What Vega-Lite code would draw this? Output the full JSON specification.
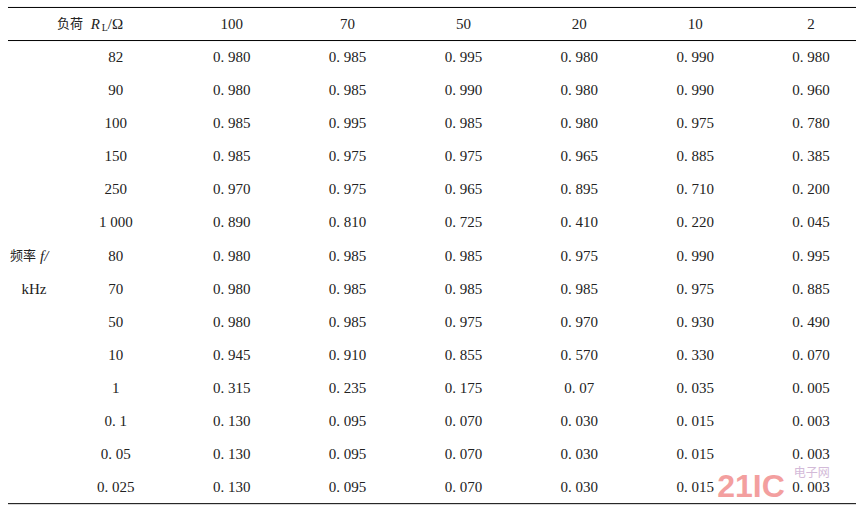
{
  "$schema": "https://vega.github.io/schema/vega-lite/v6.json",
  "width": 857,
  "height": 512,
  "autosize": {"type": "fit", "contains": "padding"},
  "padding": 0,
  "background": "white",
  "config": {"view": {"stroke": null}},
  "datasets": {
    "cells": [
      {"r": 0, "c": 1, "t": "100"}, {"r": 0, "c": 2, "t": "70"}, {"r": 0, "c": 3, "t": "50"}, {"r": 0, "c": 4, "t": "20"}, {"r": 0, "c": 5, "t": "10"}, {"r": 0, "c": 6, "t": "2"},
      {"r": 1, "c": 0, "t": "82"}, {"r": 1, "c": 1, "t": "0. 980"}, {"r": 1, "c": 2, "t": "0. 985"}, {"r": 1, "c": 3, "t": "0. 995"}, {"r": 1, "c": 4, "t": "0. 980"}, {"r": 1, "c": 5, "t": "0. 990"}, {"r": 1, "c": 6, "t": "0. 980"},
      {"r": 2, "c": 0, "t": "90"}, {"r": 2, "c": 1, "t": "0. 980"}, {"r": 2, "c": 2, "t": "0. 985"}, {"r": 2, "c": 3, "t": "0. 990"}, {"r": 2, "c": 4, "t": "0. 980"}, {"r": 2, "c": 5, "t": "0. 990"}, {"r": 2, "c": 6, "t": "0. 960"},
      {"r": 3, "c": 0, "t": "100"}, {"r": 3, "c": 1, "t": "0. 985"}, {"r": 3, "c": 2, "t": "0. 995"}, {"r": 3, "c": 3, "t": "0. 985"}, {"r": 3, "c": 4, "t": "0. 980"}, {"r": 3, "c": 5, "t": "0. 975"}, {"r": 3, "c": 6, "t": "0. 780"},
      {"r": 4, "c": 0, "t": "150"}, {"r": 4, "c": 1, "t": "0. 985"}, {"r": 4, "c": 2, "t": "0. 975"}, {"r": 4, "c": 3, "t": "0. 975"}, {"r": 4, "c": 4, "t": "0. 965"}, {"r": 4, "c": 5, "t": "0. 885"}, {"r": 4, "c": 6, "t": "0. 385"},
      {"r": 5, "c": 0, "t": "250"}, {"r": 5, "c": 1, "t": "0. 970"}, {"r": 5, "c": 2, "t": "0. 975"}, {"r": 5, "c": 3, "t": "0. 965"}, {"r": 5, "c": 4, "t": "0. 895"}, {"r": 5, "c": 5, "t": "0. 710"}, {"r": 5, "c": 6, "t": "0. 200"},
      {"r": 6, "c": 0, "t": "1 000"}, {"r": 6, "c": 1, "t": "0. 890"}, {"r": 6, "c": 2, "t": "0. 810"}, {"r": 6, "c": 3, "t": "0. 725"}, {"r": 6, "c": 4, "t": "0. 410"}, {"r": 6, "c": 5, "t": "0. 220"}, {"r": 6, "c": 6, "t": "0. 045"},
      {"r": 7, "c": 0, "t": "80"}, {"r": 7, "c": 1, "t": "0. 980"}, {"r": 7, "c": 2, "t": "0. 985"}, {"r": 7, "c": 3, "t": "0. 985"}, {"r": 7, "c": 4, "t": "0. 975"}, {"r": 7, "c": 5, "t": "0. 990"}, {"r": 7, "c": 6, "t": "0. 995"},
      {"r": 8, "c": 0, "t": "70"}, {"r": 8, "c": 1, "t": "0. 980"}, {"r": 8, "c": 2, "t": "0. 985"}, {"r": 8, "c": 3, "t": "0. 985"}, {"r": 8, "c": 4, "t": "0. 985"}, {"r": 8, "c": 5, "t": "0. 975"}, {"r": 8, "c": 6, "t": "0. 885"},
      {"r": 9, "c": 0, "t": "50"}, {"r": 9, "c": 1, "t": "0. 980"}, {"r": 9, "c": 2, "t": "0. 985"}, {"r": 9, "c": 3, "t": "0. 975"}, {"r": 9, "c": 4, "t": "0. 970"}, {"r": 9, "c": 5, "t": "0. 930"}, {"r": 9, "c": 6, "t": "0. 490"},
      {"r": 10, "c": 0, "t": "10"}, {"r": 10, "c": 1, "t": "0. 945"}, {"r": 10, "c": 2, "t": "0. 910"}, {"r": 10, "c": 3, "t": "0. 855"}, {"r": 10, "c": 4, "t": "0. 570"}, {"r": 10, "c": 5, "t": "0. 330"}, {"r": 10, "c": 6, "t": "0. 070"},
      {"r": 11, "c": 0, "t": "1"}, {"r": 11, "c": 1, "t": "0. 315"}, {"r": 11, "c": 2, "t": "0. 235"}, {"r": 11, "c": 3, "t": "0. 175"}, {"r": 11, "c": 4, "t": "0. 07"}, {"r": 11, "c": 5, "t": "0. 035"}, {"r": 11, "c": 6, "t": "0. 005"},
      {"r": 12, "c": 0, "t": "0. 1"}, {"r": 12, "c": 1, "t": "0. 130"}, {"r": 12, "c": 2, "t": "0. 095"}, {"r": 12, "c": 3, "t": "0. 070"}, {"r": 12, "c": 4, "t": "0. 030"}, {"r": 12, "c": 5, "t": "0. 015"}, {"r": 12, "c": 6, "t": "0. 003"},
      {"r": 13, "c": 0, "t": "0. 05"}, {"r": 13, "c": 1, "t": "0. 130"}, {"r": 13, "c": 2, "t": "0. 095"}, {"r": 13, "c": 3, "t": "0. 070"}, {"r": 13, "c": 4, "t": "0. 030"}, {"r": 13, "c": 5, "t": "0. 015"}, {"r": 13, "c": 6, "t": "0. 003"},
      {"r": 14, "c": 0, "t": "0. 025"}, {"r": 14, "c": 1, "t": "0. 130"}, {"r": 14, "c": 2, "t": "0. 095"}, {"r": 14, "c": 3, "t": "0. 070"}, {"r": 14, "c": 4, "t": "0. 030"}, {"r": 14, "c": 5, "t": "0. 015"}, {"r": 14, "c": 6, "t": "0. 003"}
    ],
    "rules": [{"r": -0.5}, {"r": 0.5}, {"r": 14.5}]
  },
  "encoding": {
    "x": {"type": "quantitative", "scale": {"domain": [-1, 6.388], "nice": false, "zero": false}, "axis": null},
    "y": {"type": "quantitative", "scale": {"domain": [-0.7255, 14.752], "nice": false, "zero": false, "reverse": true}, "axis": null}
  },
  "layer": [
    {
      "data": {"name": "rules"},
      "mark": {"type": "rule", "color": "#000", "strokeWidth": 1},
      "encoding": {
        "y": {"field": "r", "type": "quantitative"},
        "x": {"datum": -0.931, "type": "quantitative"},
        "x2": {"datum": 6.388}
      }
    },
    {
      "data": {"name": "cells"},
      "mark": {"type": "text", "font": "Times New Roman, Liberation Serif, serif", "fontSize": 15, "color": "#222", "align": "center", "baseline": "middle"},
      "encoding": {
        "x": {"field": "c", "type": "quantitative"},
        "y": {"field": "r", "type": "quantitative"},
        "text": {"field": "t", "type": "nominal"}
      }
    },
    {
      "data": {"values": [{"t": "负荷"}]},
      "mark": {"type": "text", "font": "Noto Sans CJK SC", "fontSize": 13, "color": "#222", "align": "left", "baseline": "middle"},
      "encoding": {"x": {"datum": -0.509, "type": "quantitative"}, "y": {"datum": 0, "type": "quantitative"}, "text": {"field": "t"}}
    },
    {
      "data": {"values": [{"t": "R"}]},
      "mark": {"type": "text", "font": "Times New Roman, Liberation Serif, serif", "fontStyle": "italic", "fontSize": 15, "color": "#222", "align": "left", "baseline": "middle"},
      "encoding": {"x": {"datum": -0.216, "type": "quantitative"}, "y": {"datum": 0, "type": "quantitative"}, "text": {"field": "t"}}
    },
    {
      "data": {"values": [{"t": "L"}]},
      "mark": {"type": "text", "font": "Times New Roman, Liberation Serif, serif", "fontSize": 10, "color": "#222", "align": "left", "baseline": "middle", "dy": 4},
      "encoding": {"x": {"datum": -0.121, "type": "quantitative"}, "y": {"datum": 0, "type": "quantitative"}, "text": {"field": "t"}}
    },
    {
      "data": {"values": [{"t": "/Ω"}]},
      "mark": {"type": "text", "font": "Times New Roman, Liberation Serif, serif", "fontSize": 15, "color": "#222", "align": "left", "baseline": "middle"},
      "encoding": {"x": {"datum": -0.07, "type": "quantitative"}, "y": {"datum": 0, "type": "quantitative"}, "text": {"field": "t"}}
    },
    {
      "data": {"values": [{"t": "频率"}]},
      "mark": {"type": "text", "font": "Noto Sans CJK SC", "fontSize": 13, "color": "#222", "align": "left", "baseline": "middle"},
      "encoding": {"x": {"datum": -0.914, "type": "quantitative"}, "y": {"datum": 7, "type": "quantitative"}, "text": {"field": "t"}}
    },
    {
      "data": {"values": [{"t": "f/"}]},
      "mark": {"type": "text", "font": "Times New Roman, Liberation Serif, serif", "fontStyle": "italic", "fontSize": 15, "color": "#222", "align": "left", "baseline": "middle"},
      "encoding": {"x": {"datum": -0.655, "type": "quantitative"}, "y": {"datum": 7, "type": "quantitative"}, "text": {"field": "t"}}
    },
    {
      "data": {"values": [{"t": "kHz"}]},
      "mark": {"type": "text", "font": "Times New Roman, Liberation Serif, serif", "fontSize": 15, "color": "#222", "align": "center", "baseline": "middle"},
      "encoding": {"x": {"datum": -0.707, "type": "quantitative"}, "y": {"datum": 8, "type": "quantitative"}, "text": {"field": "t"}}
    },
    {
      "data": {"values": [{"t": "21IC"}]},
      "mark": {"type": "text", "font": "Liberation Sans", "fontWeight": "bold", "fontSize": 32, "color": "#f08080", "opacity": 0.75, "align": "left", "baseline": "middle"},
      "encoding": {"x": {"datum": 5.19, "type": "quantitative"}, "y": {"datum": 14.0, "type": "quantitative"}, "text": {"field": "t"}}
    },
    {
      "data": {"values": [{"t": "电子网"}]},
      "mark": {"type": "text", "font": "Noto Sans CJK SC", "fontSize": 12, "color": "#c9a9cf", "opacity": 0.8, "align": "left", "baseline": "middle"},
      "encoding": {"x": {"datum": 5.85, "type": "quantitative"}, "y": {"datum": 13.56, "type": "quantitative"}, "text": {"field": "t"}}
    }
  ]
}
